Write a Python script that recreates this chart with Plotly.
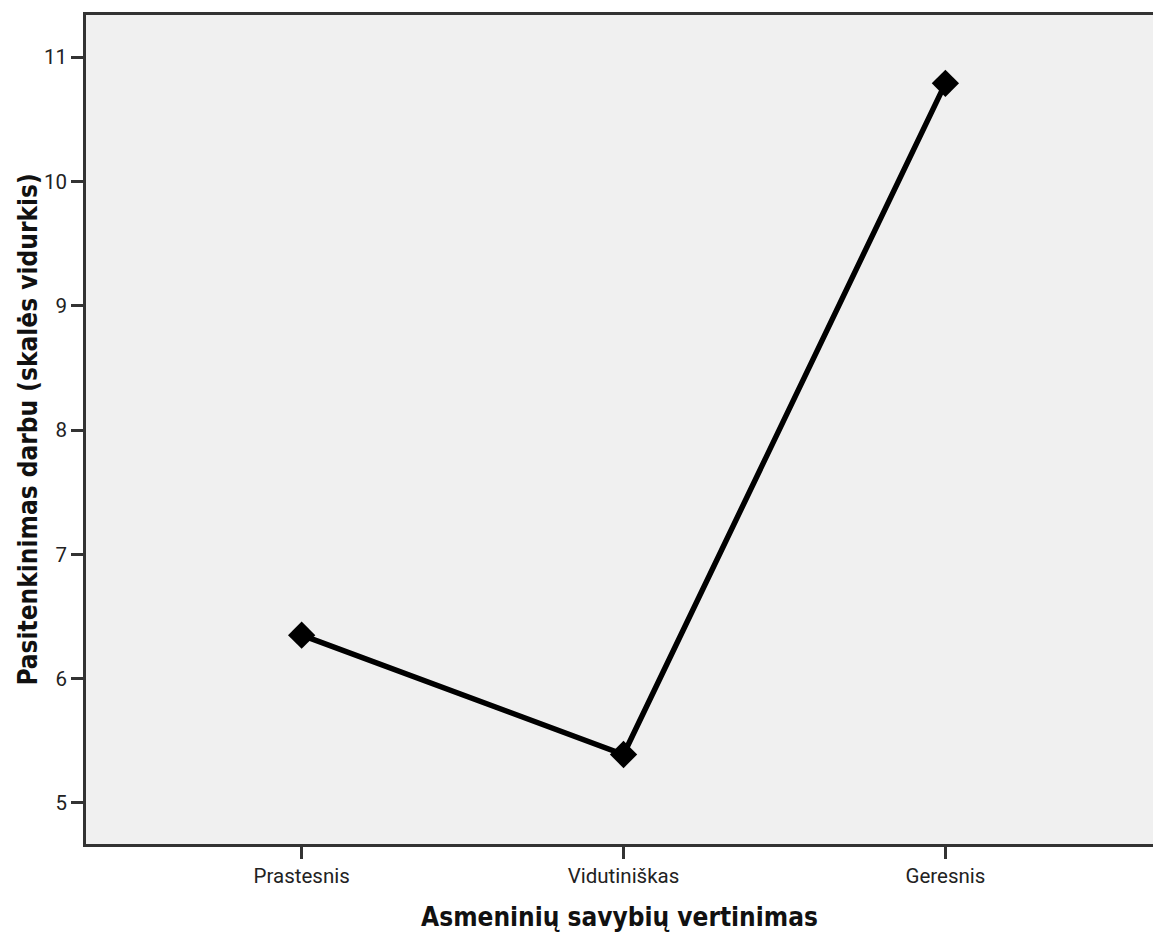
import plotly.graph_objects as go

categories = ["Prastesnis", "Vidutiniškas", "Geresnis"]
means = [6.35, 5.39, 10.79]
y_ticks = [5, 6, 7, 8, 9, 10, 11]

fig = go.Figure()
fig.add_trace(go.Scatter(
    x=categories, y=means, mode="lines+markers",
    line=dict(color="black", width=5.5),
    marker=dict(symbol="diamond", size=21, color="black"),
    showlegend=False,
))

fig.update_layout(
    width=1153, height=932,
    margin=dict(l=86, r=0, t=15, b=88),
    paper_bgcolor="white", plot_bgcolor="#f0f0f0",
    font=dict(family="Roboto, Arial, sans-serif", size=20, color="#222"),
)
fig.update_xaxes(
    type="category", range=[-0.67, 2.645],
    showline=True, linecolor="#333", linewidth=2.5, mirror=True,
    ticks="outside", ticklen=12, tickcolor="#333", tickwidth=2.5,
    showgrid=False, zeroline=False,
    tickfont=dict(size=20.5),
    title=dict(text="<b>Asmeninių savybių vertinimas</b>",
               font=dict(family="DejaVu Sans Condensed", size=26, color="#111"),
               standoff=22),
)
fig.update_yaxes(
    range=[4.67, 11.34], tickvals=y_ticks,
    showline=True, linecolor="#333", linewidth=2.5, mirror=False,
    ticks="outside", ticklen=12, tickcolor="#333", tickwidth=2.5,
    showgrid=False, zeroline=False,
    tickfont=dict(size=20.5),
    title=dict(text="<b>Pasitenkinimas darbu (skalės vidurkis)</b>",
               font=dict(family="DejaVu Sans Condensed", size=26, color="#111"),
               standoff=0),
)

post = (
    "document.body.style.margin='0';"
    "document.body.style.overflow='hidden';"
    "var gd=document.getElementById('{plot_id}');"
    "gd.style.width='1153px';gd.style.height='932px';"
    "Plotly.relayout(gd,{width:1153,height:932});"
)
fig.write_html("out.html", post_script=post, config={"displayModeBar": False})
